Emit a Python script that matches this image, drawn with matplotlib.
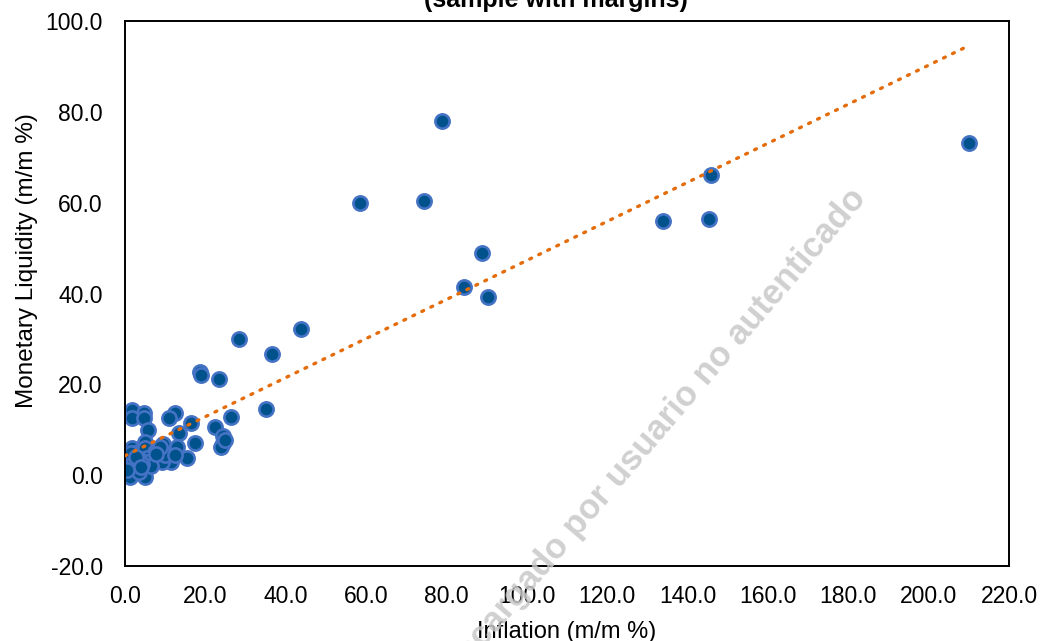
import numpy as np
import matplotlib
matplotlib.use("Agg")
import matplotlib.pyplot as plt

plt.rcParams['font.family'] = ['Liberation Sans', 'DejaVu Sans']

# inflation (x) and monetary liquidity (y), m/m %
inflation = [210.0, 78.9, 74.4, 88.9, 84.3, 90.3, 134.0, 145.4, 145.9, 58.5,
             43.7, 28.3, 36.7, 18.7, 18.9, 23.3, 35.2, 26.3, 12.4, 10.9,
             16.3, 22.3, 24.3, 24.4, 23.8, 13.4, 17.4, 9.4, 12.9,
             1.8, 4.6, 1.8, 4.6, 5.8, 24.9, 5.0, 1.7, 3.3, 5.0,
             15.3, 11.4, 9.1, 10.0, 12.4, 6.6, 7.5, 5.4, 0.8, 2.5,
             4.6, 1.2, 5.0, 0.4, 2.1, 3.7, 5.8, 0.0, 8.7, 3.0,
             1.0, 2.0, 6.5, 7.8, 4.2, 3.5, 0.6, 1.5, 2.8, 4.0]
liquidity = [73.1, 78.0, 60.4, 48.9, 41.5, 39.2, 56.0, 56.4, 66.1, 59.9,
             32.2, 30.0, 26.6, 22.8, 22.0, 21.2, 14.6, 12.9, 13.8, 12.6,
             11.5, 10.6, 8.6, 7.0, 6.2, 9.3, 7.0, 6.8, 6.2,
             14.3, 13.7, 12.5, 12.5, 9.9, 7.7, 7.3, 5.9, 5.1, 5.9,
             3.7, 2.9, 2.9, 4.4, 4.4, 4.0, 5.1, 3.7, 2.2, 2.2,
             1.1, -0.4, -0.4, 4.4, 3.3, 3.3, 2.9, 1.8, 6.2, 1.5,
             3.0, 2.6, 2.0, 4.6, 2.4, 0.8, 1.2, 4.8, 4.0, 1.9]

title = "(sample with margins)"
watermark = "Descargado por usuario no autenticado"

x = np.array(inflation)
y = np.array(liquidity)
slope, intercept = np.polyfit(x, y, 1)
xt = np.array([x.min(), x.max()])

fig = plt.figure(figsize=(10.42, 6.41), dpi=100)
ax = fig.add_axes([0.12, 0.117, 0.8483, 0.8502])

ax.scatter(x, y, s=105, c='#00528C', edgecolors='#4472C4', linewidths=1.9, zorder=2)
ax.plot(xt, slope * xt + intercept, color='#E46C0A', lw=2.4,
        linestyle=(0, (0.6, 2.4)), dash_capstyle='round', zorder=3)

ax.set_xlim(0, 220)
ax.set_ylim(-20, 100)
ax.set_xticks(np.arange(0, 221, 20))
ax.set_yticks(np.arange(-20, 101, 20))
ax.xaxis.set_major_formatter(matplotlib.ticker.FormatStrFormatter('%.1f'))
ax.yaxis.set_major_formatter(matplotlib.ticker.FormatStrFormatter('%.1f'))
ax.tick_params(axis='both', length=0, labelsize=16.5)
ax.tick_params(axis='x', pad=14)
ax.tick_params(axis='y', pad=16)
for sp in ax.spines.values():
    sp.set_linewidth(1.4)
    sp.set_color('black')

ax.set_xlabel('Inflation (m/m %)', fontsize=17, labelpad=9)
ax.set_ylabel('Monetary Liquidity (m/m %)', fontsize=17.5)
ax.yaxis.set_label_coords(-0.099, 0.56)

# title sits mostly above the visible area, as in the source crop
fig.text(0.534, 1 - 7 / 641, title, ha='center', va='baseline',
         fontsize=18, fontweight='bold')

fig.text(0.8253, 1 - 193 / 641, watermark, ha='right', va='center',
         rotation=49.5, rotation_mode='anchor', fontsize=25,
         fontweight='bold', color='#c8c8c8', alpha=0.85, zorder=10)

fig.savefig('out.png', dpi=100)
